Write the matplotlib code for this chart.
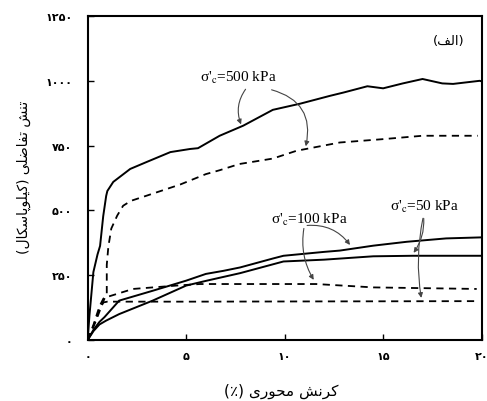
import matplotlib
matplotlib.use("Agg")
import matplotlib.pyplot as plt

plt.rcParams['font.family'] = ['DejaVu Sans']
plt.rcParams['mathtext.fontset'] = 'stix'

# --- data (axial strain %, deviator stress kPa) ---
s500_x = [0, 0.09, 0.29, 0.5, 0.63, 0.79, 0.94, 1.0, 1.3, 2.16, 3.0, 4.2, 5.2, 5.6, 6.7, 7.9,
          9.4, 10.8, 12.3, 13.0, 14.2, 15.0, 16.0, 17.0, 18.0, 18.55, 19.9, 20]
s500_y = [0, 94, 262, 330, 363, 478, 556, 575, 610, 660, 687, 725, 737, 740, 788, 827,
          888, 912, 942, 955, 979, 971, 990, 1007, 990, 988, 1000, 998]

d500_x = [0, 0.4, 0.8, 0.97, 0.97, 1.05, 1.2, 1.5, 1.8, 2.2, 3.0, 4.7, 6.0, 6.7, 7.7, 9.4,
          10.6, 12.8, 15.0, 17.0, 19.8]
d500_y = [0, 70, 150, 180, 290, 360, 430, 480, 518, 537, 557, 600, 640, 655, 679, 700,
          730, 762, 775, 788, 788]

s100_x = [0, 0.3, 0.6, 0.85, 1.6, 3.3, 5.0, 6.0, 6.9, 7.74, 9.43, 9.94, 12.0, 12.8, 14.5,
          16.2, 18.2, 20]
s100_y = [0, 40, 70, 88, 152, 190, 229, 255, 267, 280, 315, 325, 340, 345, 364,
          379, 392, 396]

d100_x = [0, 0.3, 0.6, 0.8, 0.94, 2.3, 4.5, 5.7, 8.1, 11.6, 14.5, 19.75]
d100_y = [0, 60, 130, 160, 165, 197, 210, 216, 216, 216, 203, 197]

s50_x = [0, 0.3, 0.6, 0.94, 1.6, 3.3, 5.0, 6.05, 7.74, 9.94, 12.0, 14.5, 16.5, 20]
s50_y = [0, 35, 60, 75, 100, 152, 210, 229, 258, 303, 310, 323, 325, 325]

d50_x = [0, 0.3, 0.6, 0.8, 1.0, 5.0, 19.75]
d50_y = [0, 55, 120, 145, 148, 148, 150]

xticks = [0, 5, 10, 15, 20]
xtick_labels = ['۰', '۵', '۱۰', '۱۵', '۲۰']
yticks = [0, 250, 500, 750, 1000, 1250]
ytick_labels = ['۰', '۲۵۰', '۵۰۰', '۷۵۰', '۱۰۰۰', '۱۲۵۰']

ylabel_fa = 'تنش تفاضلی (کیلوپاسکال)'
xlabel_fa = 'کرنش محوری (٪)'
panel_fa = '(الف)'

# presentation forms: iso, fin, ini, med (right-joining letters have only iso, fin)
FORMS = {
    'ا': ('\uFE8D', '\uFE8E'),
    'ت': ('\uFE95', '\uFE96', '\uFE97', '\uFE98'),
    'ح': ('\uFEA1', '\uFEA2', '\uFEA3', '\uFEA4'),
    'ر': ('\uFEAD', '\uFEAE'),
    'س': ('\uFEB1', '\uFEB2', '\uFEB3', '\uFEB4'),
    'ش': ('\uFEB5', '\uFEB6', '\uFEB7', '\uFEB8'),
    'ض': ('\uFEBD', '\uFEBE', '\uFEBF', '\uFEC0'),
    'ف': ('\uFED1', '\uFED2', '\uFED3', '\uFED4'),
    'ل': ('\uFEDD', '\uFEDE', '\uFEDF', '\uFEE0'),
    'م': ('\uFEE1', '\uFEE2', '\uFEE3', '\uFEE4'),
    'ن': ('\uFEE5', '\uFEE6', '\uFEE7', '\uFEE8'),
    'و': ('\uFEED', '\uFEEE'),
    'پ': ('\uFB56', '\uFB57', '\uFB58', '\uFB59'),
    'ک': ('\uFB8E', '\uFB8F', '\uFB90', '\uFB91'),
    'ی': ('\uFBFC', '\uFBFD', '\uFBFE', '\uFBFF'),
}


def rtl(text):
    # crude shaping + reversal, matplotlib has no bidi support
    out = []
    for i, ch in enumerate(text):
        if ch not in FORMS:
            out.append(ch)
            continue
        prev = text[i - 1] if i > 0 else ''
        nxt = text[i + 1] if i + 1 < len(text) else ''
        jp = prev in FORMS and len(FORMS[prev]) == 4
        jn = nxt in FORMS and len(FORMS[ch]) == 4
        f = FORMS[ch]
        if jp and jn:
            out.append(f[3])
        elif jp:
            out.append(f[1])
        elif jn:
            out.append(f[2])
        else:
            out.append(f[0])
    s = ''.join(out)[::-1]
    return s.translate(str.maketrans('()', ')('))


fig = plt.figure(figsize=(4.87, 4.02), dpi=100)
ax = fig.add_axes([0.18, 0.1517, 0.809, 0.806])

ax.plot(s500_x, s500_y, color='black', lw=1.4)
ax.plot(d500_x, d500_y, color='black', lw=1.3, ls=(0, (4, 3)))
ax.plot(s100_x, s100_y, color='black', lw=1.4)
ax.plot(d100_x, d100_y, color='black', lw=1.3, ls=(0, (4, 3)))
ax.plot(s50_x, s50_y, color='black', lw=1.4)
ax.plot(d50_x, d50_y, color='black', lw=1.3, ls=(0, (4, 3)))

ax.set_xlim(0, 20)
ax.set_ylim(0, 1250)
ax.set_xticks(xticks)
ax.set_xticklabels(xtick_labels, fontsize=8, fontweight='bold')
ax.set_yticks(yticks)
ax.set_yticklabels(ytick_labels, fontsize=8, fontweight='bold')
ax.tick_params(direction='in', length=4, width=1)
ax.tick_params(axis='y', pad=11)
ax.tick_params(axis='x', pad=8)
for sp in ax.spines.values():
    sp.set_linewidth(1.5)

fig.text(24 / 487, 1 - 177 / 402, rtl(ylabel_fa), rotation=90, ha='center', va='center', fontsize=10)
fig.text(281 / 487, 1 - 391 / 402, rtl(xlabel_fa), ha='center', va='center', fontsize=11)
ax.text(18.35, 1155, rtl(panel_fa), ha='center', va='center', fontsize=9.5)

lab = dict(family='Liberation Serif', fontsize=11, ha='center', va='center')
ax.text(7.65, 1015, "σ'${}_{\\rm c}$=500 kPa", **lab)
ax.text(11.25, 467, "σ'${}_{\\rm c}$=100 kPa", **lab)
ax.text(17.1, 518, "σ'${}_{\\rm c}$=50 kPa", **lab)

arr = dict(arrowstyle='-|>', color='#444444', lw=0.8, mutation_scale=7)
ax.annotate('', xy=(7.84, 822), xytext=(8.1, 976),
            arrowprops=dict(connectionstyle='arc3,rad=0.3', **arr))
ax.annotate('', xy=(11.04, 737), xytext=(9.2, 968),
            arrowprops=dict(connectionstyle='arc3,rad=-0.5', **arr))
ax.annotate('', xy=(13.4, 358), xytext=(11.0, 441),
            arrowprops=dict(connectionstyle='arc3,rad=-0.3', **arr))
ax.annotate('', xy=(11.55, 223), xytext=(11.0, 441),
            arrowprops=dict(connectionstyle='arc3,rad=0.2', **arr))
ax.annotate('', xy=(16.46, 328), xytext=(17.05, 480),
            arrowprops=dict(connectionstyle='arc3,rad=-0.2', **arr))
ax.annotate('', xy=(16.96, 152), xytext=(17.05, 480),
            arrowprops=dict(connectionstyle='arc3,rad=0.1', **arr))

fig.savefig('out.png', dpi=100)
